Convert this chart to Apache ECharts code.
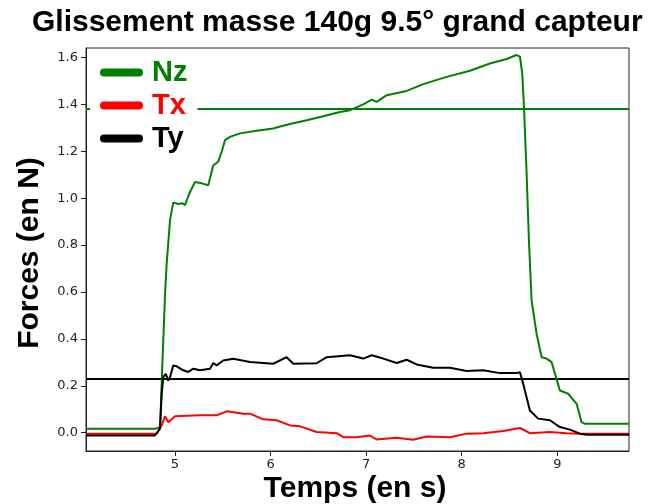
<!DOCTYPE html>
<html>
<head>
<meta charset="utf-8">
<script src="https://cdn.jsdelivr.net/npm/echarts@6/dist/echarts.min.js"></script>
<style>html,body{margin:0;padding:0;background:#fff}#c{width:652px;height:504px}</style>
</head>
<body>
<div id="c"></div>
<script>
var titleText = 'Glissement masse 140g 9.5° grand capteur';
var xName = 'Temps (en s)';
var yName = 'Forces (en N)';
var xTicks = [5, 6, 7, 8, 9];
var yTicks = [0, 0.2, 0.4, 0.6, 0.8, 1.0, 1.2, 1.4, 1.6];
var seriesNames = ['Nz', 'Tx', 'Ty'];

var nzTime = [4.07, 4.79, 4.822, 4.843, 4.853, 4.865, 4.878, 4.895, 4.913, 4.948, 4.982, 5.03, 5.08, 5.105, 5.15, 5.209, 5.28, 5.348, 5.401, 5.453, 5.49, 5.523, 5.575, 5.68, 5.855, 6.028, 6.1, 6.203, 6.378, 6.551, 6.726, 6.831, 6.97, 7.058, 7.11, 7.215, 7.424, 7.598, 7.843, 8.086, 8.295, 8.47, 8.574, 8.609, 8.633, 8.651, 8.679, 8.703, 8.731, 8.783, 8.836, 8.888, 8.94, 9.027, 9.114, 9.202, 9.254, 9.289, 9.75];
var nzForce = [0.017, 0.017, 0.02, 0.023, 0.12, 0.26, 0.40, 0.58, 0.721, 0.906, 0.982, 0.975, 0.978, 0.970, 1.02, 1.069, 1.063, 1.055, 1.14, 1.155, 1.2, 1.247, 1.261, 1.276, 1.287, 1.297, 1.305, 1.316, 1.332, 1.349, 1.367, 1.375, 1.400, 1.420, 1.410, 1.439, 1.457, 1.486, 1.517, 1.543, 1.574, 1.593, 1.610, 1.603, 1.532, 1.39, 1.105, 0.82, 0.564, 0.422, 0.322, 0.316, 0.301, 0.18, 0.166, 0.123, 0.045, 0.038, 0.038];

var txTime = [4.07, 4.81, 4.861, 4.895, 4.93, 5.0, 5.262, 5.436, 5.541, 5.714, 5.785, 5.924, 6.064, 6.203, 6.308, 6.482, 6.692, 6.761, 6.9, 7.04, 7.11, 7.319, 7.493, 7.632, 7.877, 8.051, 8.225, 8.434, 8.609, 8.713, 8.923, 9.097, 9.237, 9.75];
var txForce = [-0.004, -0.004, 0.031, 0.07, 0.045, 0.07, 0.074, 0.074, 0.091, 0.081, 0.081, 0.057, 0.053, 0.031, 0.027, 0.003, -0.002, -0.019, -0.019, -0.012, -0.029, -0.022, -0.03, -0.016, -0.019, -0.004, -0.002, 0.007, 0.02, -0.002, 0.003, -0.002, -0.004, -0.004];

var tyTime = [4.07, 4.79, 4.843, 4.861, 4.878, 4.903, 4.93, 4.948, 4.982, 5.018, 5.087, 5.139, 5.192, 5.262, 5.366, 5.401, 5.436, 5.505, 5.61, 5.785, 6.028, 6.168, 6.238, 6.482, 6.587, 6.831, 6.97, 7.058, 7.179, 7.319, 7.424, 7.528, 7.702, 7.877, 8.051, 8.225, 8.4, 8.574, 8.609, 8.643, 8.713, 8.8, 8.923, 9.027, 9.132, 9.237, 9.31, 9.75];
var tyForce = [-0.012, -0.012, 0.017, 0.166, 0.237, 0.251, 0.222, 0.237, 0.287, 0.283, 0.266, 0.259, 0.273, 0.266, 0.273, 0.297, 0.287, 0.308, 0.315, 0.301, 0.294, 0.322, 0.294, 0.296, 0.322, 0.33, 0.316, 0.33, 0.316, 0.297, 0.311, 0.291, 0.277, 0.277, 0.263, 0.266, 0.254, 0.254, 0.258, 0.209, 0.095, 0.06, 0.053, 0.024, 0.013, -0.004, -0.009, -0.009];

var nzThreshold = 1.382;
var tyThreshold = 0.233;

function zip(t, v) { return t.map(function (x, i) { return [x, v[i]]; }); }

var GREEN = '#008000', RED = '#ff0000', BLACK = '#000000';
var pill = 'path://M4,0L39,0A4,4,0,0,1,39,8L4,8A4,4,0,0,1,4,0Z';
var bigFont = '"Liberation Sans", Arial, sans-serif';

var chart = echarts.init(document.getElementById('c'), null, {renderer: 'canvas'});
chart.setOption({
  animation: false,
  backgroundColor: '#ffffff',
  title: {
    text: titleText, left: 27, top: 3,
    textStyle: {fontFamily: bigFont, fontWeight: 'bold', fontSize: 30, color: '#000'}
  },
  grid: {left: 86, right: 23, top: 48, bottom: 53, show: true, borderColor: '#222', borderWidth: 1, backgroundColor: 'transparent'},
  xAxis: {
    type: 'value', min: 4.069, max: 9.75,
    axisLine: {show: true, onZero: false, lineStyle: {color: '#222', width: 1}},
    axisTick: {show: true, customValues: xTicks, length: 5, lineStyle: {color: '#222'}},
    axisLabel: {customValues: xTicks, margin: 7, fontFamily: '"DejaVu Sans"', fontSize: 13, color: '#222', formatter: function (v) { return String(Math.round(v)); }},
    splitLine: {show: false}
  },
  yAxis: {
    type: 'value', min: -0.078, max: 1.64,
    axisLine: {show: true, onZero: false, lineStyle: {color: '#222', width: 1}},
    axisTick: {show: true, customValues: yTicks, length: 5, lineStyle: {color: '#222'}},
    axisLabel: {customValues: yTicks, margin: 8, fontFamily: '"DejaVu Sans"', fontSize: 13, color: '#222', formatter: function (v) { return v.toFixed(1); }},
    splitLine: {show: false}
  },
  legend: {
    orient: 'vertical', left: 90, top: 54, z: 20, zlevel: 0,
    itemWidth: 43, itemHeight: 8, itemGap: 4,
    padding: [4, 10, 4, 10],
    backgroundColor: '#ffffff', borderRadius: 4,
    icon: pill,
    textStyle: {fontFamily: bigFont, fontWeight: 'bold', fontSize: 29, padding: [0, 0, 0, 4]},
    data: [
      {name: seriesNames[0], textStyle: {color: GREEN}},
      {name: seriesNames[1], textStyle: {color: RED}},
      {name: seriesNames[2], textStyle: {color: BLACK}}
    ]
  },
  graphic: [
    {type: 'text', x: 30, y: 253, rotation: Math.PI / 2,
     style: {text: yName, font: 'bold 30px "Liberation Sans", Arial, sans-serif', fill: '#000', textAlign: 'center', textVerticalAlign: 'middle'}},
    {type: 'text', x: 355, y: 489,
     style: {text: xName, font: 'bold 30px "Liberation Sans", Arial, sans-serif', fill: '#000', textAlign: 'center', textVerticalAlign: 'middle'}}
  ],
  series: [
    {name: seriesNames[0], type: 'line', data: zip(nzTime, nzForce), showSymbol: false, symbol: 'none',
     lineStyle: {color: GREEN, width: 2}, itemStyle: {color: GREEN}, z: 2,
     markLine: {silent: true, z: 2, symbol: 'none', label: {show: false}, lineStyle: {color: GREEN, width: 2, type: 'solid'}, data: [{yAxis: nzThreshold}]}},
    {name: seriesNames[1], type: 'line', data: zip(txTime, txForce), showSymbol: false, symbol: 'none',
     lineStyle: {color: RED, width: 2}, itemStyle: {color: RED}, z: 2},
    {name: seriesNames[2], type: 'line', data: zip(tyTime, tyForce), showSymbol: false, symbol: 'none',
     lineStyle: {color: BLACK, width: 2}, itemStyle: {color: BLACK}, z: 2,
     markLine: {silent: true, z: 2, symbol: 'none', label: {show: false}, lineStyle: {color: BLACK, width: 2, type: 'solid'}, data: [{yAxis: tyThreshold}]}}
  ]
});
</script>
</body>
</html>
